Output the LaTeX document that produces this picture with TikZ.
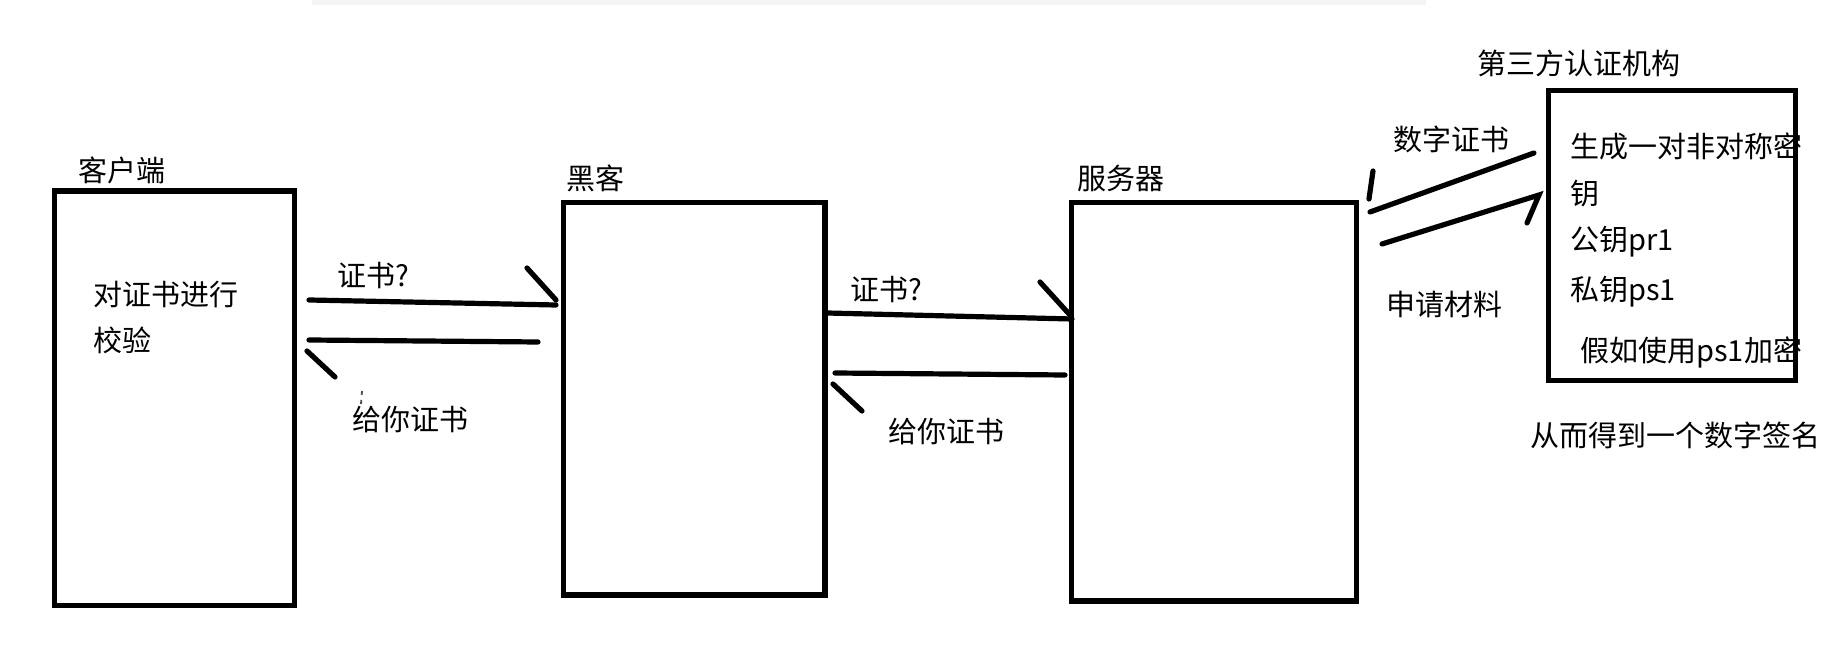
\documentclass[tikz,border=0pt]{standalone}
\usepackage{fontspec}
\newfontfamily\cjk{Noto Sans CJK SC}
\begin{document}
\begin{tikzpicture}[x=0.5pt,y=-0.5pt,
  stroke/.style={line width=2.6pt, line cap=round},
  box/.style={draw, line width=2.6pt, inner sep=0pt},
  lbl/.style={font=\cjk\fontsize{14.5}{17}\selectfont, inner sep=0pt, text=black}]
\useasboundingbox (0,0) rectangle (1848,667);
\fill[black!4] (312,0) rectangle (1426,5);

% boxes
\node[box, minimum width=120.2pt, minimum height=207.4pt] (client) at (174.5,398.5) {};
\node[box, minimum width=130.8pt, minimum height=196.2pt] (hacker) at (694.2,398.9) {};
\node[box, minimum width=142.6pt, minimum height=199.2pt] (server) at (1213.9,401.9) {};
\node[box, minimum width=123.2pt, minimum height=145pt] (ca) at (1671.9,235.8) {};

% titles
\node[lbl, anchor=west] (tclient) at (78,170) {客户端};
\node[lbl, anchor=west] (thacker) at (566,178) {黑客};
\node[lbl, anchor=west] (tserver) at (1077,178) {服务器};
\node[lbl, anchor=west] (tca) at (1477,63) {第三方认证机构};

% client text
\node[lbl, anchor=west] (c1) at (93,295) {对证书进行};
\node[lbl, anchor=west] (c2) at (93,340) {校验};

% CA text
\node[lbl, anchor=west] (k1) at (1570,146) {生成一对非对称密};
\node[lbl, anchor=west] (k2) at (1570,194) {钥};
\node[lbl, anchor=west] (k3) at (1570,242) {公钥pr1};
\node[lbl, anchor=west] (k4) at (1570,292) {私钥ps1};
\node[lbl, anchor=west] (k5) at (1580,353) {假如使用ps1加密};
\node[lbl, anchor=west] (k6) at (1530,435) {从而得到一个数字签名};

% client <-> hacker
\coordinate (a1s) at (309,300); \coordinate (a1e) at (556,305); \coordinate (a1h) at (527,268);
\draw[stroke] (a1s) -- (a1e);
\draw[stroke] (a1h) -- (556,300);
\node[lbl, anchor=west] (l1) at (337,276) {证书?};
\coordinate (b1s) at (538,342); \coordinate (b1e) at (309,340);
\draw[stroke] (b1s) -- (b1e);
\draw[stroke] (307,351) -- (335,377);
\node[lbl, anchor=west] (l2) at (352,420) {给你证书};
\draw[line width=0.9pt, dash pattern=on 2pt off 2.5pt, black!70] (362,391) -- (361,404);

% hacker <-> server
\coordinate (a2s) at (827,313); \coordinate (a2e) at (1072,319);
\draw[stroke] (a2s) -- (a2e);
\draw[stroke] (1040,282) -- (1070,315);
\node[lbl, anchor=west] (l3) at (850,290) {证书?};
\coordinate (b2s) at (1065,375); \coordinate (b2e) at (835,373);
\draw[stroke] (b2s) -- (b2e);
\draw[stroke] (833,384) -- (862,411);
\node[lbl, anchor=west] (l4) at (888,432) {给你证书};

% server <-> CA
\coordinate (c3s) at (1534,153); \coordinate (c3e) at (1370,212);
\draw[stroke] (c3s) -- (c3e);
\draw[stroke] (1373,171) -- (1369,199);
\node[lbl, anchor=west] (l5) at (1393,139) {数字证书};
\coordinate (d3s) at (1382,244); \coordinate (d3e) at (1539,195);
\draw[stroke] (d3s) -- (d3e) -- (1527,223);
\node[lbl, anchor=west] (l6) at (1386,304) {申请材料};
\end{tikzpicture}
\end{document}
